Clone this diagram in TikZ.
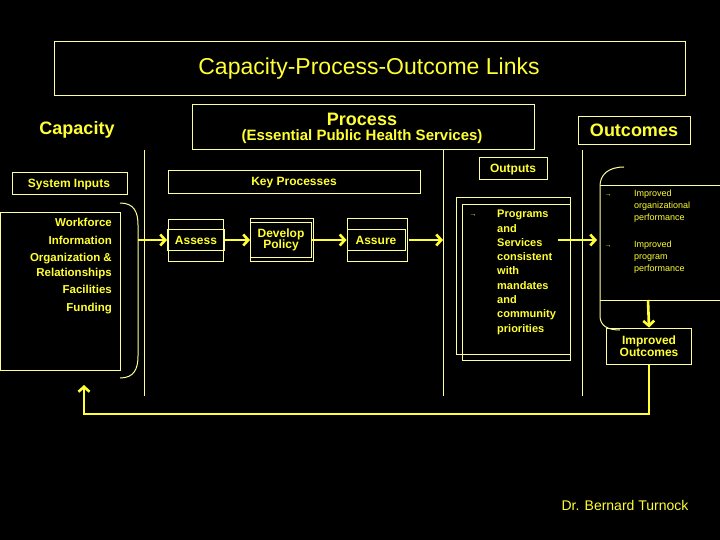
\documentclass[tikz,border=0pt]{standalone}
\usepackage{fontspec}
\setmainfont{Liberation Sans}
\usetikzlibrary{arrows.meta}
\definecolor{yl}{HTML}{FFFF33}
\definecolor{yt}{HTML}{FFFF99}
\begin{document}
\begin{tikzpicture}[x=1pt,y=-1pt,
  thin/.style={draw=yt,line width=1pt},
  box/.style={draw=yt,line width=1pt,inner sep=0pt},
  fat/.style={draw=yl,line width=2.6pt,-{Straight Barb[length=5pt,width=11pt]}},
  lbl/.style={text=yl,font=\bfseries\fontsize{12}{14}\selectfont,align=center,inner sep=0pt},
  sm/.style={text=yl,font=\fontsize{9}{12}\selectfont,align=left,inner sep=0pt,anchor=north west}]
\fill[black] (0,0) rectangle (720,540);
\useasboundingbox (0,0) rectangle (720,540);
% title
\draw[thin] (54,42) rectangle (685,96);
\node[text=yl,font=\fontsize{23}{26}\selectfont] (title) at (369,69) {Capacity-Process-Outcome Links};
% headers
\node[text=yl,font=\bfseries\fontsize{18}{20}\selectfont] (cap) at (77,130) {Capacity};
\draw[thin] (192,105) rectangle (534,150);
\node[text=yl,font=\bfseries\fontsize{18}{20}\selectfont] (proc) at (362,119) {Process};
\node[text=yl,font=\bfseries\fontsize{15}{18}\selectfont] (ephs) at (362,137) {(Essential Public Health Services)};
\draw[thin] (578,117) rectangle (690,145);
\node[text=yl,font=\bfseries\fontsize{18}{20}\selectfont] (outc) at (634,130) {Outcomes};
% vertical dividers
\draw[thin] (144,150) -- (144,396);
\draw[thin] (443,150) -- (443,396);
\draw[thin] (582,150) -- (582,396);
% section labels
\draw[thin] (12,173) rectangle (127,195);
\node[lbl] (si) at (69,185) {System Inputs};
\draw[thin] (168,171) rectangle (420,194);
\node[lbl] (kp) at (294,183) {Key Processes};
\draw[thin] (479,158) rectangle (547,180);
\node[lbl] (op) at (513,170) {Outputs};
% inputs
\draw[thin] (0,213) rectangle (120,370);
\node[text=yl,font=\bfseries\fontsize{11.5}{17.5}\selectfont,align=right,anchor=north east,inner sep=0pt] (inp) at (112,218)
 {Workforce\\Information\\Organization \&\\[-3pt]Relationships\\Facilities\\Funding};
\draw[thin] (120,203) .. controls (134,203) and (138,212) .. (138,225) -- (138,356) .. controls (138,369) and (134,378) .. (120,378);
\coordinate (br) at (138,240);
% processes
\draw[thin] (168,220) rectangle (223,261);
\node[box,minimum width=57,minimum height=21,lbl] (assess) at (196,240) {Assess};
\draw[thin] (250,219) rectangle (313,261);
\node[box,minimum width=61,minimum height=35,lbl] (dev) at (281,240) {Develop\\[-3pt]Policy};
\draw[thin] (347,219) rectangle (407,261);
\node[box,minimum width=58,minimum height=21,lbl] (assure) at (376,240) {Assure};
\draw[fat] (br) -- (assess.west);
\draw[fat] (assess.east) -- (dev.west);
\draw[fat] (dev.east) -- (assure.west);
\coordinate (div) at (443,240);
\draw[fat] (assure.east) ++(3,0) -- (div);
% outputs
\draw[thin] (456,198) rectangle (570,354);
\draw[thin] (462,205) rectangle (570,360);
\node[text=yl,font=\fontsize{7}{8}\selectfont] (b1) at (473,216) {→};
\node[text=yl,font=\bfseries\fontsize{11}{14.3}\selectfont,align=left,anchor=north west,inner sep=0pt] (prog) at (497,210)
 {Programs\\and\\Services\\consistent\\with\\mandates\\and\\community\\priorities};
\coordinate (pa) at (558,240);
\coordinate (pb) at (597,240);
\draw[fat] (pa) -- (pb);
% outcomes region
\draw[thin] (624,167) .. controls (608,167) and (600,175) .. (600,186) -- (600,316) .. controls (600,326) and (608,330) .. (620,330);
\draw[thin] (600,186) -- (720,186);
\draw[thin] (600,300) -- (720,300);
\node[text=yl,font=\fontsize{7}{8}\selectfont] (b2) at (608,196) {→};
\node[text=yl,font=\fontsize{7}{8}\selectfont] (b3) at (608,247) {→};
\node[sm] (io) at (634,190) {Improved\\organizational\\performance};
\node[sm] (ip) at (634,241) {Improved\\program\\performance};
\node[box,minimum width=85,minimum height=36,lbl] (io2) at (649,346) {Improved\\[-2pt]Outcomes};
\coordinate (dt) at (648,300);
\draw[fat] (dt) -- (io2.north);
% feedback
\coordinate (fb) at (84,385);
\draw[fat] (io2.south) |- (84,414) -- (fb);
% credit
\node[text=yl,font=\fontsize{14}{16}\selectfont] (cr) at (625,505) {Dr. Bernard Turnock};
\end{tikzpicture}
\end{document}
